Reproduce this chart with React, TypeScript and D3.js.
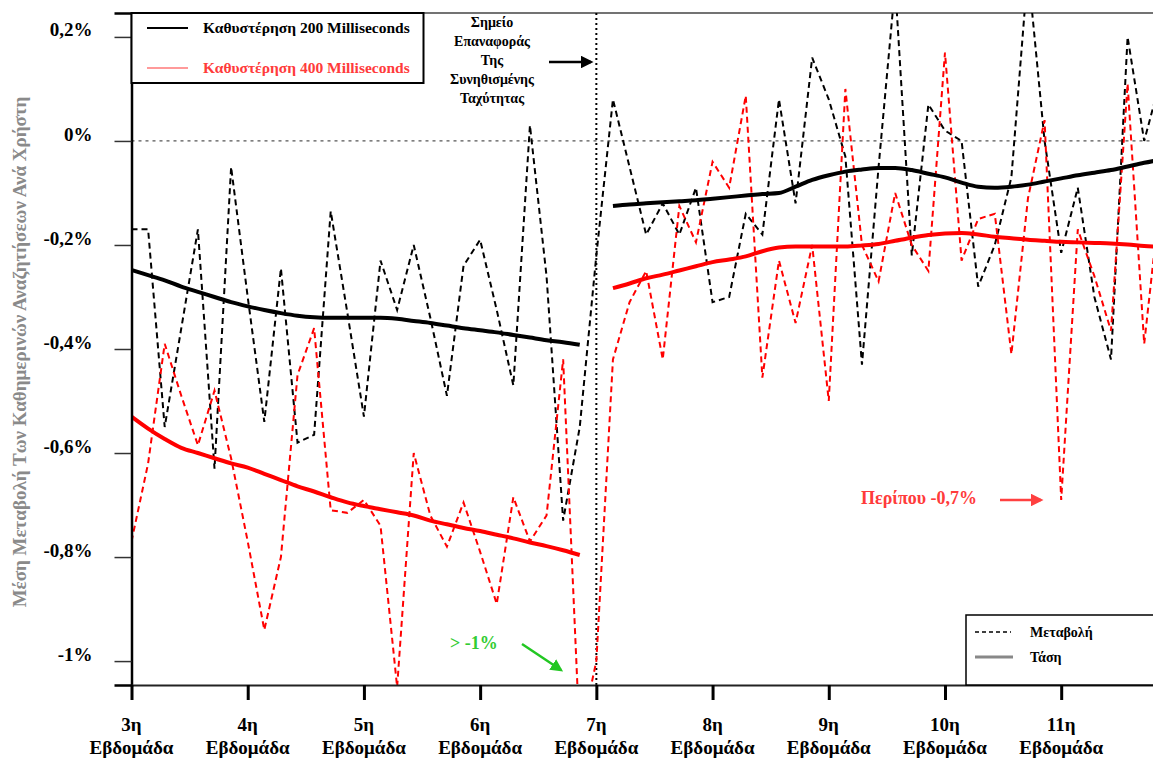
import React, { useRef, useEffect } from "react";
import * as d3 from "d3";

// weeks on the x axis
const weekTicks = [3, 4, 5, 6, 7, 8, 9, 10, 11];
const weekLabels = ["3η", "4η", "5η", "6η", "7η", "8η", "9η", "10η", "11η"];
const yTicks = [0.2, 0, -0.2, -0.4, -0.6, -0.8, -1];
const yTickLabels = ["0,2%", "0%", "-0,2%", "-0,4%", "-0,6%", "-0,8%", "-1%"];

const firstWeek = 3;
const daysPerWeek = 7;
const resetWeek = 7;
const afterStartDay = 29;

// daily change, 200 ms delay (day 0 = start of week 3)
const change200 = [
  -0.17, -0.17, -0.55, -0.36, -0.17, -0.63, -0.05,
  -0.3, -0.54, -0.245, -0.58, -0.565, -0.135, -0.33,
  -0.53, -0.23, -0.325, -0.2, -0.34, -0.49, -0.24,
  -0.19, -0.325, -0.47, 0.03, -0.26, -0.73, -0.55,
  -0.22, 0.08, -0.05, -0.18, -0.12, -0.18, -0.09,
  -0.31, -0.3, -0.14, -0.18, 0.08, -0.12, 0.16,
  0.08, -0.03, -0.43, -0.05, 0.3, -0.22, 0.07,
  0.02, 0.0, -0.28, -0.2, -0.07, 0.33, 0.0,
  -0.215, -0.09, -0.3, -0.42, 0.2, 0.0, 0.12,
];

// daily change, 400 ms delay
const change400 = [
  -0.77, -0.62, -0.39, -0.49, -0.585, -0.48, -0.61,
  -0.77, -0.94, -0.8, -0.45, -0.36, -0.71, -0.715,
  -0.69, -0.74, -1.05, -0.6, -0.72, -0.78, -0.695,
  -0.79, -0.89, -0.685, -0.77, -0.72, -0.42, -1.15,
  -1.0, -0.42, -0.31, -0.25, -0.42, -0.125, -0.195,
  -0.04, -0.09, 0.087, -0.455, -0.23, -0.35, -0.2,
  -0.5, 0.1, -0.2, -0.27, -0.1, -0.2, -0.25,
  0.17, -0.23, -0.15, -0.14, -0.41, -0.11, 0.04,
  -0.69, -0.17, -0.26, -0.365, 0.11, -0.39, -0.1,
];

// trend, days 0-27
const trend200Before = [
  -0.248, -0.258, -0.268, -0.28, -0.29, -0.3, -0.31,
  -0.318, -0.325, -0.331, -0.336, -0.339, -0.34, -0.34,
  -0.34, -0.34, -0.342, -0.346, -0.35, -0.355, -0.36,
  -0.364, -0.368, -0.373, -0.378, -0.383, -0.387, -0.392,
];
const trend400Before = [
  -0.53, -0.553, -0.573, -0.59, -0.6, -0.61, -0.62,
  -0.628, -0.64, -0.652, -0.664, -0.674, -0.685, -0.695,
  -0.702, -0.708, -0.714, -0.72, -0.73, -0.737, -0.744,
  -0.75, -0.757, -0.764, -0.772, -0.779, -0.787, -0.796,
];
// trend, days 29-62
const trend200After = [
  -0.125, -0.122, -0.12, -0.118, -0.116, -0.114, -0.111,
  -0.108, -0.105, -0.102, -0.1, -0.088, -0.075, -0.066,
  -0.059, -0.055, -0.052, -0.052, -0.056, -0.063, -0.07,
  -0.08, -0.088, -0.09, -0.088, -0.084, -0.078, -0.072,
  -0.066, -0.061, -0.056, -0.049, -0.042, -0.036,
];
const trend400After = [
  -0.283, -0.274, -0.264, -0.257, -0.249, -0.241, -0.233,
  -0.228, -0.222, -0.212, -0.205, -0.203, -0.203, -0.203,
  -0.203, -0.201, -0.198, -0.192, -0.186, -0.181, -0.178,
  -0.177, -0.18, -0.184, -0.187, -0.19, -0.192, -0.194,
  -0.195, -0.196, -0.197, -0.199, -0.202, -0.204,
];

const resetNote = ["Σημείο", "Επαναφοράς", "Της", "Συνηθισμένης", "Ταχύτητας"];

const FONT = "'Liberation Serif', 'DejaVu Serif', serif";

const Chart = () => {
  const svgRef = useRef(null);

  useEffect(() => {
    const svg = d3.select(svgRef.current);
    svg.selectAll("*").remove();

    const width = 1153,
      height = 758,
      margin = { top: 13, right: 0, bottom: 73, left: 131.5 };

    const x = d3
      .scaleLinear()
      .domain([3, 11.79])
      .range([margin.left, width - margin.right]);
    const y = d3
      .scaleLinear()
      .domain([-1.046, 0.246])
      .range([height - margin.bottom, margin.top]);

    const dayX = (i) => x(firstWeek + i / daysPerWeek);

    const defs = svg.append("defs");
    defs
      .append("clipPath")
      .attr("id", "plot-clip")
      .append("rect")
      .attr("x", margin.left)
      .attr("y", margin.top)
      .attr("width", width - margin.left - margin.right)
      .attr("height", height - margin.top - margin.bottom);

    const arrowHead = (id, color) => {
      defs
        .append("marker")
        .attr("id", id)
        .attr("viewBox", "0 0 10 10")
        .attr("refX", 8)
        .attr("refY", 5)
        .attr("markerWidth", 5)
        .attr("markerHeight", 5)
        .attr("orient", "auto")
        .append("path")
        .attr("d", "M0,0 L10,5 L0,10 Z")
        .attr("fill", color);
    };
    arrowHead("arr-black", "#000");
    arrowHead("arr-green", "#22c722");
    arrowHead("arr-red", "#ff4040");

    // top frame line
    svg
      .append("line")
      .attr("x1", margin.left)
      .attr("x2", width)
      .attr("y1", margin.top)
      .attr("y2", margin.top)
      .attr("stroke", "#444")
      .attr("stroke-width", 1.5);

    // zero line
    svg
      .append("line")
      .attr("x1", margin.left)
      .attr("x2", width)
      .attr("y1", y(0))
      .attr("y2", y(0))
      .attr("stroke", "#555")
      .attr("stroke-width", 1.3)
      .attr("stroke-dasharray", "3,4");

    // reset marker
    svg
      .append("line")
      .attr("x1", x(resetWeek))
      .attr("x2", x(resetWeek))
      .attr("y1", margin.top)
      .attr("y2", height - margin.bottom)
      .attr("stroke", "#000")
      .attr("stroke-width", 2)
      .attr("stroke-dasharray", "2,3");

    const plot = svg.append("g").attr("clip-path", "url(#plot-clip)");

    const dayLine = d3
      .line()
      .x((d, i) => dayX(i))
      .y((d) => y(d));

    /* daily change lines */
    plot
      .append("path")
      .datum(change200)
      .attr("d", dayLine)
      .attr("fill", "none")
      .attr("stroke", "#000")
      .attr("stroke-width", 2)
      .attr("stroke-dasharray", "6,4");

    plot
      .append("path")
      .datum(change400)
      .attr("d", dayLine)
      .attr("fill", "none")
      .attr("stroke", "#ff0000")
      .attr("stroke-width", 2)
      .attr("stroke-dasharray", "6,4");

    /* trend lines */
    const trendLine = (offset) =>
      d3
        .line()
        .x((d, i) => dayX(i + offset))
        .y((d) => y(d))
        .curve(d3.curveMonotoneX);

    [
      [trend200Before, 0, "#000"],
      [trend200After, afterStartDay, "#000"],
      [trend400Before, 0, "#ff0000"],
      [trend400After, afterStartDay, "#ff0000"],
    ].forEach(([data, offset, color]) => {
      plot
        .append("path")
        .datum(data)
        .attr("d", trendLine(offset))
        .attr("fill", "none")
        .attr("stroke", color)
        .attr("stroke-width", 4);
    });

    // Y axis
    const yAxis = d3
      .axisLeft(y)
      .tickValues(yTicks)
      .tickSize(17)
      .tickPadding(22)
      .tickFormat((d, i) => yTickLabels[i]);
    const yg = svg
      .append("g")
      .attr("transform", `translate(${margin.left},0)`)
      .call(yAxis);
    yg.select(".domain").attr("stroke", "#000").attr("stroke-width", 2.5);
    yg.selectAll(".tick line").attr("stroke", "#333").attr("stroke-width", 1.5);
    yg.selectAll(".tick text")
      .attr("dy", "-0.05em")
      .attr("fill", "#000")
      .style("font-family", FONT)
      .style("font-weight", "bold")
      .style("font-size", "19px");

    // X axis
    const xAxis = d3
      .axisBottom(x)
      .tickValues(weekTicks)
      .tickSize(15)
      .tickSizeOuter(0)
      .tickFormat(() => "");
    const xg = svg
      .append("g")
      .attr("transform", `translate(0,${height - margin.bottom})`)
      .call(xAxis);
    xg.select(".domain").attr("stroke", "#222").attr("stroke-width", 2);
    xg.selectAll(".tick line").attr("stroke", "#000").attr("stroke-width", 3);

    const xl = svg
      .append("g")
      .selectAll("text")
      .data(weekTicks)
      .enter()
      .append("text")
      .attr("text-anchor", "middle")
      .style("font-family", FONT)
      .style("font-weight", "bold")
      .style("font-size", "19px");
    xl.append("tspan")
      .attr("x", (d) => x(d))
      .attr("y", 731)
      .text((d, i) => weekLabels[i]);
    xl.append("tspan")
      .attr("x", (d) => x(d))
      .attr("y", 754)
      .text("Εβδομάδα");

    // Y title
    svg
      .append("text")
      .attr("transform", "translate(26,352) rotate(-90)")
      .attr("text-anchor", "middle")
      .attr("fill", "#8a8a8a")
      .style("font-family", FONT)
      .style("font-weight", "bold")
      .style("font-size", "19px")
      .text("Μέση Μεταβολή Των Καθημερινών Αναζητήσεων Ανά Χρήστη");

    // series legend
    const lg = svg.append("g");
    lg.append("rect")
      .attr("x", margin.left)
      .attr("y", margin.top)
      .attr("width", 292)
      .attr("height", 70)
      .attr("fill", "#fff")
      .attr("stroke", "#000")
      .attr("stroke-width", 2);
    [
      ["Καθυστέρηση 200 Milliseconds", "#000", "#000", 28],
      ["Καθυστέρηση 400 Milliseconds", "#ff9a9a", "#ff3b3b", 68],
    ].forEach(([label, lineColor, textColor, ly]) => {
      lg.append("line")
        .attr("x1", 147)
        .attr("x2", 188)
        .attr("y1", ly)
        .attr("y2", ly)
        .attr("stroke", lineColor)
        .attr("stroke-width", 2);
      lg.append("text")
        .attr("x", 203)
        .attr("y", ly)
        .attr("dy", "0.35em")
        .attr("fill", textColor)
        .style("font-family", FONT)
        .style("font-weight", "bold")
        .style("font-size", "15.5px")
        .text(label);
    });

    // line-style legend
    const sg = svg.append("g");
    sg.append("rect")
      .attr("x", 966)
      .attr("y", 615)
      .attr("width", 200)
      .attr("height", 70)
      .attr("fill", "#fff")
      .attr("stroke", "#000")
      .attr("stroke-width", 1.5);
    sg.append("line")
      .attr("x1", 975)
      .attr("x2", 1011)
      .attr("y1", 632)
      .attr("y2", 632)
      .attr("stroke", "#000")
      .attr("stroke-width", 1.5)
      .attr("stroke-dasharray", "4,3");
    sg.append("line")
      .attr("x1", 975)
      .attr("x2", 1013)
      .attr("y1", 657)
      .attr("y2", 657)
      .attr("stroke", "#888")
      .attr("stroke-width", 3);
    [
      ["Μεταβολή", 632],
      ["Τάση", 657],
    ].forEach(([label, ly]) => {
      sg.append("text")
        .attr("x", 1030)
        .attr("y", ly)
        .attr("dy", "0.35em")
        .style("font-family", FONT)
        .style("font-weight", "bold")
        .style("font-size", "14px")
        .text(label);
    });

    // reset note
    svg
      .append("g")
      .selectAll("text")
      .data(resetNote)
      .enter()
      .append("text")
      .attr("x", 492)
      .attr("y", (d, i) => 27 + i * 19)
      .attr("text-anchor", "middle")
      .style("font-family", FONT)
      .style("font-weight", "bold")
      .style("font-size", "14px")
      .text((d) => d);
    svg
      .append("line")
      .attr("x1", 549)
      .attr("x2", 591)
      .attr("y1", 62)
      .attr("y2", 62)
      .attr("stroke", "#000")
      .attr("stroke-width", 2.5)
      .attr("marker-end", "url(#arr-black)");

    // > -1% note
    svg
      .append("text")
      .attr("x", 450)
      .attr("y", 643)
      .attr("dy", "0.35em")
      .attr("fill", "#33cc33")
      .style("font-family", FONT)
      .style("font-weight", "bold")
      .style("font-size", "18px")
      .text("> -1%");
    svg
      .append("line")
      .attr("x1", 522)
      .attr("x2", 561)
      .attr("y1", 644)
      .attr("y2", 670)
      .attr("stroke", "#22c722")
      .attr("stroke-width", 2.5)
      .attr("marker-end", "url(#arr-green)");

    // about -0.7% note
    svg
      .append("text")
      .attr("x", 861)
      .attr("y", 498)
      .attr("dy", "0.35em")
      .attr("fill", "#ff3b3b")
      .style("font-family", FONT)
      .style("font-weight", "bold")
      .style("font-size", "18px")
      .text("Περίπου -0,7%");
    svg
      .append("line")
      .attr("x1", 1000)
      .attr("x2", 1041)
      .attr("y1", 500)
      .attr("y2", 500)
      .attr("stroke", "#ff4040")
      .attr("stroke-width", 2.5)
      .attr("marker-end", "url(#arr-red)");
  }, []);

  return (
    <svg
      ref={svgRef}
      width={1153}
      height={758}
      style={{ position: "absolute", left: 0, top: 0, background: "#fff" }}
    ></svg>
  );
};

export default function App() {
  return <Chart />;
}
